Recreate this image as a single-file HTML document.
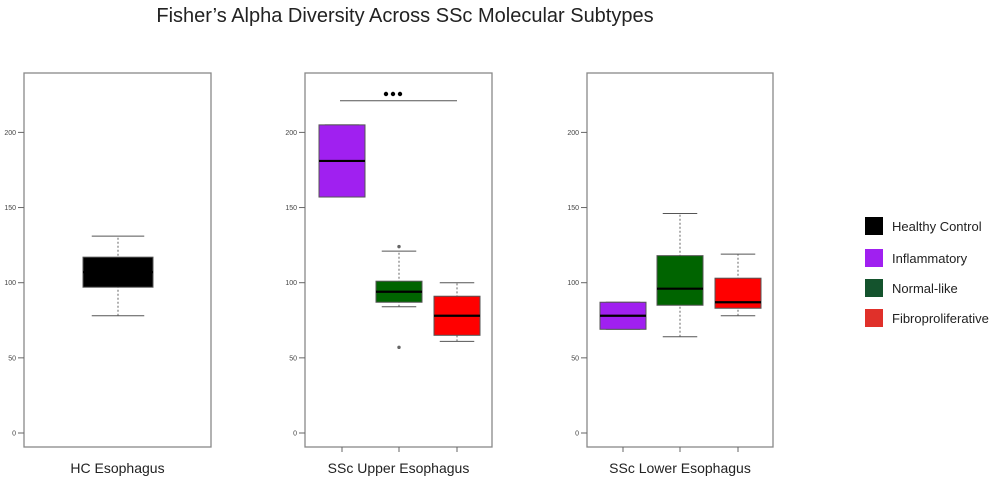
<!DOCTYPE html>
<html><head><meta charset="utf-8"><style>
body{margin:0;background:#fff;width:991px;height:483px;overflow:hidden;font-family:"Liberation Sans",sans-serif}
</style></head><body>
<svg width="991" height="483" id="svg">
<text x="405" y="22" text-anchor="middle" font-size="20" fill="#222">Fisher’s Alpha Diversity Across SSc Molecular Subtypes</text>
<g id="legend"></g>
</svg>
<script>
const panelNames=["HC Esophagus","SSc Upper Esophagus","SSc Lower Esophagus"];
const groupNames=["Healthy Control","Inflammatory","Normal-like","Fibroproliferative"];
const colors=["#000000","#a020f0","#006400","#ff0000"];
const legendColors=["#000000","#a020f0","#14532d","#e0302a"];
const yTicks=[0,50,100,150,200];
// [lowWhisker,q1,median,q3,highWhisker]
const hcStats=[[78,97,107,117,131]];
const upperStats=[[157,157,181,205,205],[84,87,94,101,121],[61,65,78,91,100]];
const lowerStats=[[69,69,78,87,87],[64,85,96,118,146],[78,83,87,103,119]];
const upperOutliers=[[],[124,57],[]];
const lowerOutliers=[[],[],[]];
const hcOutliers=[[]];
const NS="http://www.w3.org/2000/svg";
const svg=document.getElementById('svg');
function mk(t,a,p){const e=document.createElementNS(NS,t);for(const k in a)e.setAttribute(k,a[k]);(p||svg).appendChild(e);return e;}
const y=v=>433-v*1.503;
const panels=[
 {x0:24,x1:211,centers:[118],hw:35,stats:hcStats,out:hcOutliers,groups:[0],ticksX:false},
 {x0:305,x1:492,centers:[342,399,457],hw:23,stats:upperStats,out:upperOutliers,groups:[1,2,3],ticksX:true},
 {x0:587,x1:773,centers:[623,680,738],hw:23,stats:lowerStats,out:lowerOutliers,groups:[1,2,3],ticksX:true}];
panels.forEach((p,pi)=>{
 const g=mk('g',{});
 
 
 const f=mk('rect',{x:p.x0,y:73,width:p.x1-p.x0,height:374,fill:'none',stroke:'#888','stroke-width':1.3},g);
 
 yTicks.forEach(t=>{
  mk('line',{x1:p.x0-6,x2:p.x0,y1:y(t),y2:y(t),stroke:'#666'},g);
  const tx=mk('text',{x:p.x0-8,y:y(t)+2.5,'text-anchor':'end','font-size':7,fill:'#444'},g);tx.textContent=t;
  
 });
 if(p.ticksX)p.centers.forEach(c=>mk('line',{x1:c,x2:c,y1:447,y2:452,stroke:'#666'},g));
 const lbl=mk('text',{x:(p.x0+p.x1)/2,y:473,'text-anchor':'middle','font-size':14,fill:'#222'},g);
 lbl.textContent=panelNames[pi];
 
 p.stats.forEach((s,i)=>{
  const c=p.centers[i],hw=p.hw,col=colors[p.groups[i]];
  const bg=mk('g',{},g);
  
  
  mk('line',{x1:c,x2:c,y1:y(s[0]),y2:y(s[4]),stroke:'#666','stroke-dasharray':'2,2'},bg);
  mk('line',{x1:c-hw*0.75,x2:c+hw*0.75,y1:y(s[0]),y2:y(s[0]),stroke:'#555'},bg);
  mk('line',{x1:c-hw*0.75,x2:c+hw*0.75,y1:y(s[4]),y2:y(s[4]),stroke:'#555'},bg);
  mk('rect',{x:c-hw,y:y(s[3]),width:2*hw,height:y(s[1])-y(s[3]),fill:col,stroke:'#555'},bg);
  mk('line',{x1:c-hw,x2:c+hw,y1:y(s[2]),y2:y(s[2]),stroke:'#000','stroke-width':2.2},bg);
  p.out[i].forEach(o=>mk('circle',{cx:c,cy:y(o),r:1.7,fill:'#666'},bg));
 });
});
const sig=mk('g',{});

mk('line',{x1:340,x2:457,y1:100.7,y2:100.7,stroke:'#555'},sig);
[386,393,400].forEach(x=>mk('circle',{cx:x,cy:94,r:2.2,fill:'#000'},sig));
const lg=document.getElementById('legend');
const ly=[226,258,288,318];
groupNames.forEach((n,i)=>{
 const e=mk('g',{},lg);
 
 mk('rect',{x:865,y:ly[i]-9,width:18,height:18,fill:legendColors[i]},e);
 const t=mk('text',{x:892,y:ly[i]+5,'font-size':13,fill:'#222'},e);t.textContent=n;
});
</script>
</body></html>
